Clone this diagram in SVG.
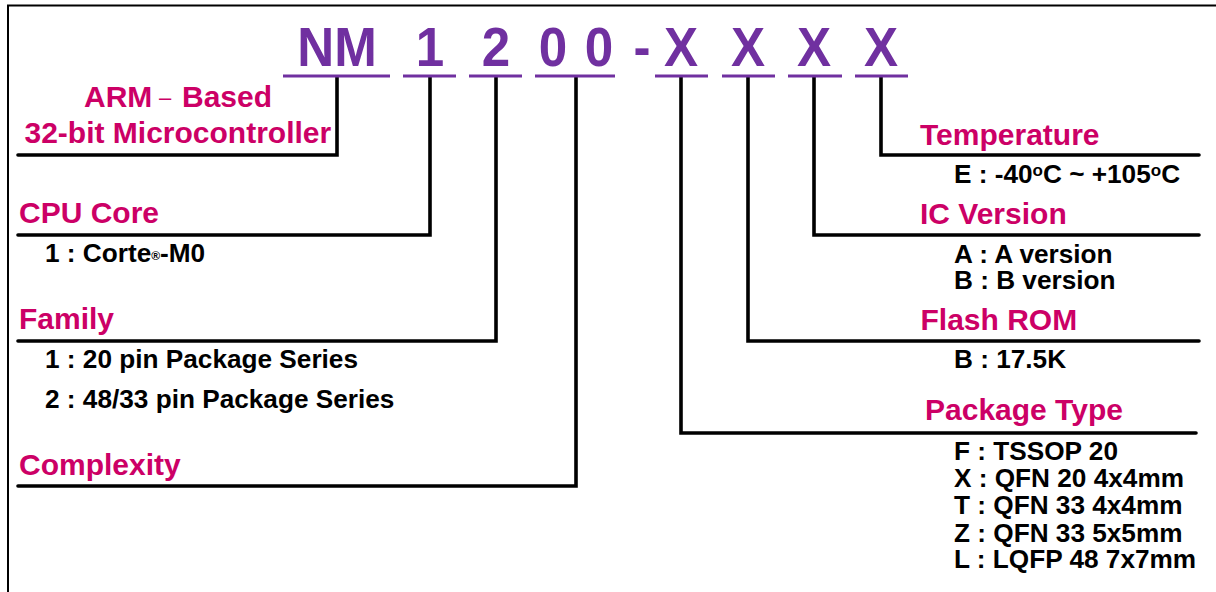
<svg xmlns="http://www.w3.org/2000/svg" width="1216" height="592" viewBox="0 0 1216 592">
<style>
text{font-family:"Liberation Sans",Arial,sans-serif;font-weight:700}
.c{fill:#cc0066;font-size:30px}
.d{fill:#000;font-size:26.2px}
.t{fill:#7030a0;font-size:55px;text-anchor:middle}
.u{stroke:#7030a0;stroke-width:3;fill:none}
.l{stroke:#000;stroke-width:3.6;fill:none;stroke-linejoin:miter;stroke-linecap:round}
.s{font-size:12px}
.o{font-size:17px}
</style>
<rect width="1216" height="592" fill="#fff"/>
<path id="frame" d="M8 592V5.500H1216" fill="none" stroke="#000" stroke-width="2"/>
<g id="connectors">
<path class="l" d="M337 77V155H18"/>
<path class="l" d="M430 77V235H18"/>
<path class="l" d="M496 77V341H18"/>
<path class="l" d="M576 77V486H18"/>
<path class="l" d="M681 77V433H1196"/>
<path class="l" d="M748 77V341H1199"/>
<path class="l" d="M814 77V235H1199"/>
<path class="l" d="M881 77V155H1199"/>
</g>
<g id="code">
<text class="t" transform="translate(337 66) scale(.93 1)">NM</text>
<text class="t" transform="translate(430 66) scale(.93 1)">1</text>
<text class="t" transform="translate(496 66) scale(.93 1)">2</text>
<text class="t" transform="translate(553 66) scale(.93 1)">0</text>
<text class="t" transform="translate(599 66) scale(.93 1)">0</text>
<text class="t" transform="translate(642 66) scale(.93 1)">-</text>
<text class="t" transform="translate(681 66) scale(.93 1)">X</text>
<text class="t" transform="translate(748 66) scale(.93 1)">X</text>
<text class="t" transform="translate(814 66) scale(.93 1)">X</text>
<text class="t" transform="translate(881 66) scale(.93 1)">X</text>
<path class="u" d="M283 76H390M403 76H456M469 76H522M535 76H615M655 76H708M722 76H775M788 76H842M855 76H908"/>
</g>
<g id="arm"><text class="c" x="84" y="107">ARM</text><text class="c" x="159" y="105" font-size="22" style="font-size:22px;font-weight:400">–</text><text class="c" x="182" y="107">Based</text>
<text class="c" x="24.500" y="143">32-bit Microcontroller</text></g>
<g id="cpu"><text class="c" x="19" y="223">CPU Core</text>
<text class="d" x="45" y="262">1 : Corte<tspan class="s" dy="-2">®</tspan><tspan dy="2">-M0</tspan></text></g>
<g id="family"><text class="c" x="19" y="329">Family</text>
<text class="d" x="45" y="368">1 : 20 pin Package Series</text>
<text class="d" x="45" y="408">2 : 48/33 pin Package Series</text></g>
<g id="complexity"><text class="c" x="19" y="475">Complexity</text></g>
<g id="temperature"><text class="c" x="920" y="145">Temperature</text>
<text class="d" x="954" y="183">E : -40<tspan class="o" dy="-7">o</tspan><tspan dy="7">C ~ +105</tspan><tspan class="o" dy="-7">o</tspan><tspan dy="7">C</tspan></text></g>
<g id="version"><text class="c" x="920" y="224">IC Version</text>
<text class="d" x="954" y="263">A : A version</text>
<text class="d" x="954" y="289">B : B version</text></g>
<g id="flash"><text class="c" x="920.500" y="330">Flash ROM</text>
<text class="d" x="954" y="368">B : 17.5K</text></g>
<g id="package"><text class="c" x="925" y="420">Package Type</text>
<text class="d" x="954" y="460">F : TSSOP 20</text>
<text class="d" x="954" y="487">X : QFN 20 4x4mm</text>
<text class="d" x="954" y="514">T : QFN 33 4x4mm</text>
<text class="d" x="954" y="542">Z : QFN 33 5x5mm</text>
<text class="d" x="954" y="568">L : LQFP 48 7x7mm</text></g>
</svg>
